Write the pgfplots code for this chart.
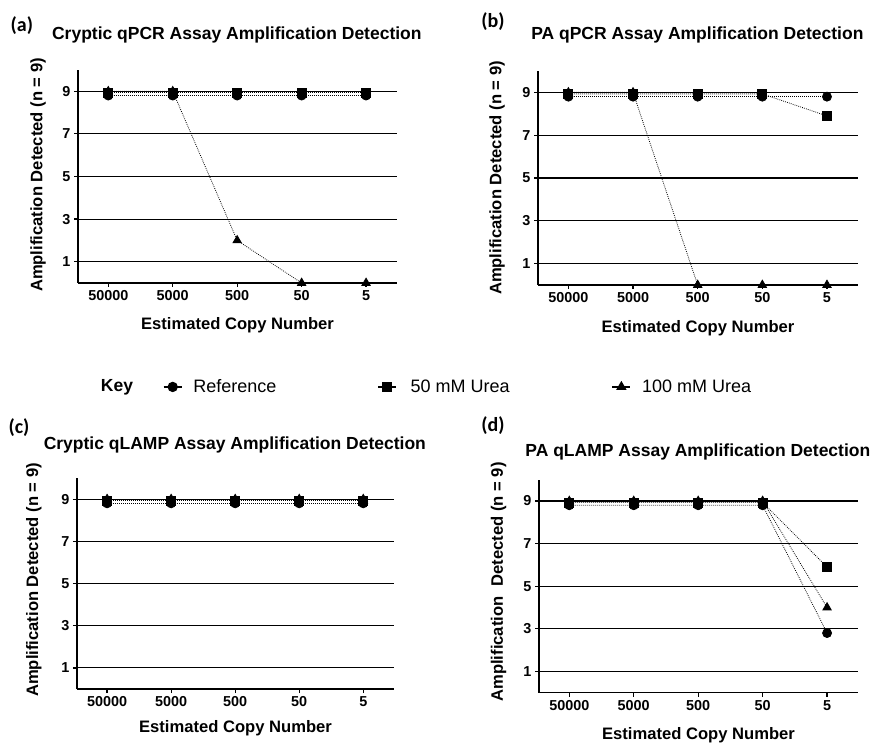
\documentclass[border=0pt]{standalone}
\usepackage{pgfplots}
\pgfplotsset{compat=1.18}
\usepackage{fontspec}
\setmainfont{Liberation Sans}
\newfontfamily\carlito{Carlito}

\pgfplotsset{
  panel/.style={
    scale only axis, clip=false,
    xmin=-0.47, xmax=4.48, ymin=0, ymax=10,
    axis x line*=bottom, axis y line*=left,
    axis line style={line width=1.5pt},
    xtick={0,...,4}, xticklabels={50000,5000,500,50,5},
    ytick={1,3,5,7,9}, yticklabels={1,3,5,7,9},
    ymajorgrids, grid style={black, line width=1.1pt},
    tick align=outside, major tick length=4pt,
    tick style={black, line width=1.2pt},
    tick label style={font=\bfseries\fontsize{14.4}{16}\selectfont},
    label style={font=\bfseries\fontsize{16.6}{18}\selectfont},
    title style={font=\bfseries\fontsize{17.5}{20}\selectfont, anchor=center, yshift=-6pt},
    xlabel={Estimated Copy Number},
  },
  ser/.style={black, dash pattern=on 0.8pt off 1.2pt, line width=0.8pt, mark options={solid}},
  ref/.style={ser, mark=*, mark size=4.5pt},
  u50/.style={ser, mark=square*, mark size=4.5pt},
  u100/.style={ser, mark=triangle*, mark size=4.8pt},
}
\tikzset{letter/.style={font=\carlito\bfseries\fontsize{20}{22}\selectfont}}

\begin{document}
\begin{tikzpicture}
\useasboundingbox (0,0) rectangle (875pt,742pt);

% (a)
\begin{axis}[panel, at={(78pt,459pt)}, anchor=south west, width=319pt, height=213pt,
  title={Cryptic qPCR Assay Amplification Detection},
  title style={at={(axis description cs:0.498,1.166)}},
  ylabel={Amplification Detected (n = 9)},
  ylabel style={at={(axis description cs:-0.125,0.507)}, anchor=center},
  xlabel style={at={(axis description cs:0.5,-0.2)}, anchor=center},
  legend columns=3, reverse legend,
  legend image code/.code={\draw[mark repeat=2,mark phase=2,#1,solid,line width=1.3pt] plot coordinates {(0pt,0pt)(9pt,0pt)(18pt,0pt)};},
  legend style={at={(axis description cs:0.266,-0.488)}, anchor=west, draw=none, fill=none,
    inner sep=0pt, font=\fontsize{18}{20}\selectfont, nodes={inner sep=0pt},
    /tikz/column 1/.style={column sep=11pt},
    /tikz/column 2/.style={column sep=101pt},
    /tikz/column 3/.style={column sep=14pt},
    /tikz/column 4/.style={column sep=102pt},
    /tikz/column 5/.style={column sep=11pt}},
]
\addplot[u100] coordinates {(0,9) (1,9) (2,2) (3,0) (4,0)};
\addplot[u50] coordinates {(0,8.93) (1,8.93) (2,8.93) (3,8.93) (4,8.93)};
\addplot[ref] coordinates {(0,8.8) (1,8.8) (2,8.8) (3,8.8) (4,8.8)};
\legend{100 mM Urea, 50 mM Urea, Reference}
\node[letter] at (axis description cs:-0.176,1.207) {(a)};
\end{axis}

% (b)
\begin{axis}[panel, at={(538pt,457pt)}, anchor=south west, width=320pt, height=214pt,
  title={PA qPCR Assay Amplification Detection},
  title style={at={(axis description cs:0.498,1.166)}},
  ylabel={Amplification Detected (n = 9)},
  ylabel style={at={(axis description cs:-0.128,0.5)}, anchor=center},
  xlabel style={at={(axis description cs:0.5,-0.2)}, anchor=center},
]
\addplot[u100] coordinates {(0,9) (1,9) (2,0) (3,0) (4,0)};
\addplot[u50] coordinates {(0,8.93) (1,8.93) (2,8.93) (3,8.93) (4,7.9)};
\addplot[ref] coordinates {(0,8.8) (1,8.8) (2,8.8) (3,8.8) (4,8.8)};
\node[letter] at (axis description cs:-0.141,1.229) {(b)};
\end{axis}

% (c)
\begin{axis}[panel, at={(77pt,53pt)}, anchor=south west, width=317pt, height=211pt,
  title={Cryptic qLAMP Assay Amplification Detection},
  title style={at={(axis description cs:0.498,1.158)}},
  ylabel={Amplification Detected (n = 9)},
  ylabel style={at={(axis description cs:-0.136,0.517)}, anchor=center},
  xlabel style={at={(axis description cs:0.5,-0.185)}, anchor=center},
]
\addplot[u100] coordinates {(0,9) (1,9) (2,9) (3,9) (4,9)};
\addplot[u50] coordinates {(0,8.93) (1,8.93) (2,8.93) (3,8.93) (4,8.93)};
\addplot[ref] coordinates {(0,8.8) (1,8.8) (2,8.8) (3,8.8) (4,8.8)};
\node[letter] at (axis description cs:-0.183,1.237) {(c)};
\end{axis}

% (d)
\begin{axis}[panel, at={(539pt,49.3pt)}, anchor=south west, width=319pt, height=213pt,
  title={PA qLAMP Assay Amplification Detection},
  title style={at={(axis description cs:0.498,1.128)}},
  ylabel={Amplification\hspace{0.6em}Detected (n = 9)},
  ylabel style={at={(axis description cs:-0.127,0.52)}, anchor=center},
  xlabel style={at={(axis description cs:0.5,-0.2)}, anchor=center},
]
\addplot[u100] coordinates {(0,9) (1,9) (2,9) (3,9) (4,4.0)};
\addplot[u50] coordinates {(0,8.93) (1,8.93) (2,8.93) (3,8.93) (4,5.9)};
\addplot[ref] coordinates {(0,8.8) (1,8.8) (2,8.8) (3,8.8) (4,2.8)};
\node[letter] at (axis description cs:-0.144,1.252) {(d)};
\end{axis}

\node[font=\bfseries\fontsize{17.5}{20}\selectfont] at (117pt,355pt) {Key};
\end{tikzpicture}
\end{document}
